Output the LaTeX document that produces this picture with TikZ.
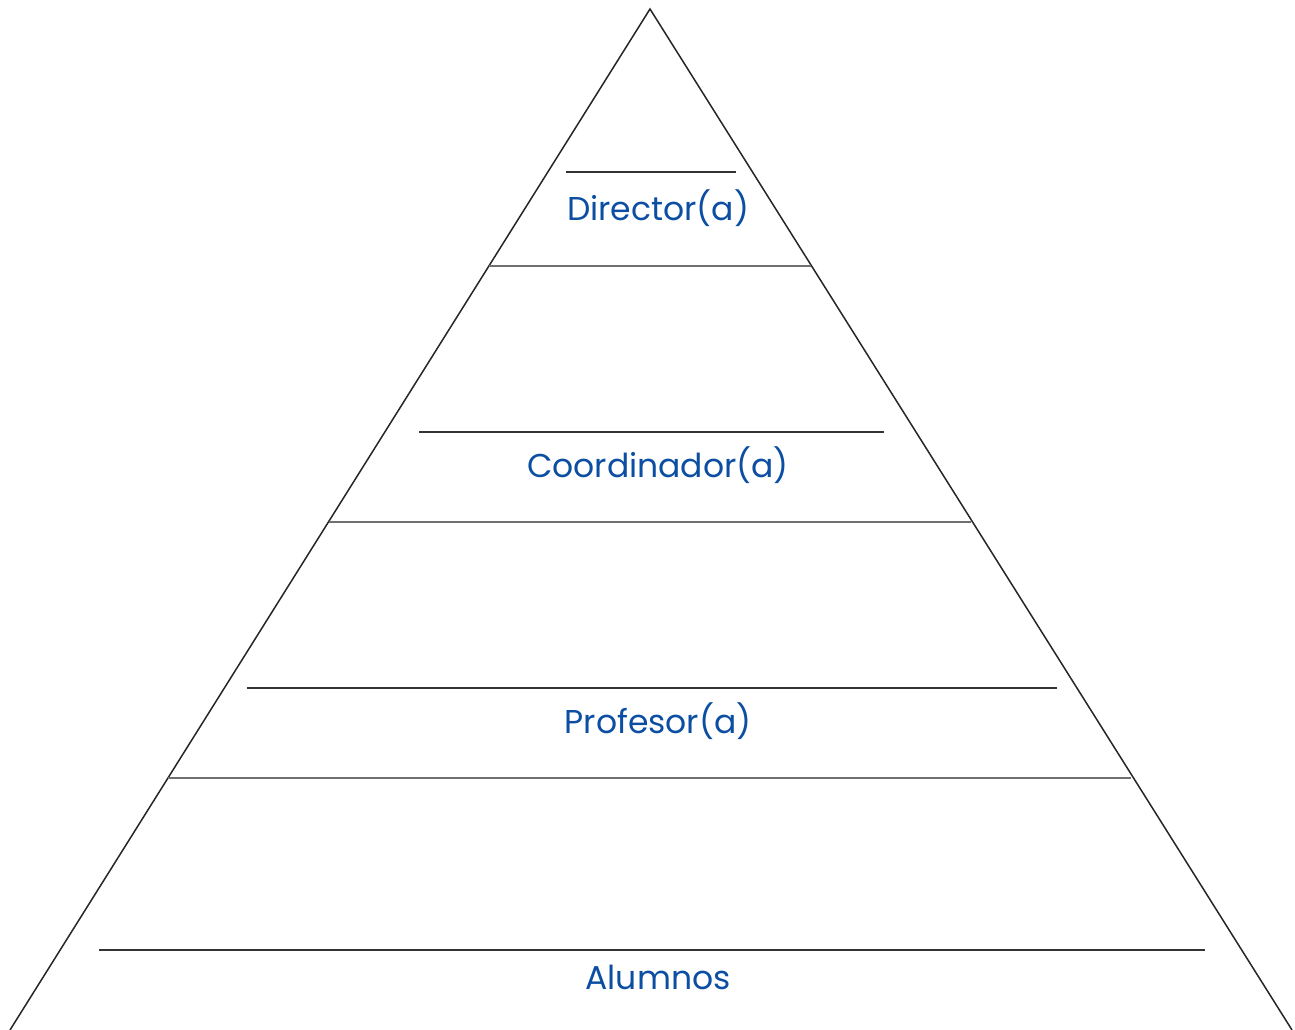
\documentclass[tikz,border=0pt]{standalone}
\usepackage{fontspec}
\setmainfont{Poppins}
\definecolor{lblue}{HTML}{0B4EA2}
\definecolor{lgray}{HTML}{707070}
\begin{document}
\begin{tikzpicture}[x=1pt,y=-1pt,
  side/.style={draw=black!85,line width=1.5pt},
  tier/.style={draw=lgray,line width=1.6pt},
  bar/.style={draw=black!80,line width=2pt},
  lbl/.style={text=lblue,font=\fontsize{33}{35}\selectfont,inner sep=0pt,anchor=center}]
\useasboundingbox (0,0) rectangle (1295,1030);
\coordinate (apex) at (650,9);
\coordinate (bl) at (10,1030);
\coordinate (br) at (1292,1030);
\draw[side] (bl) -- (apex) -- (br);
% tier lines
\coordinate (t1l) at (489,266); \coordinate (t1r) at (811,266);
\coordinate (t2l) at (329,522); \coordinate (t2r) at (971,522);
\coordinate (t3l) at (168,778); \coordinate (t3r) at (1131,778);
\draw[tier] (t1l) -- (t1r);
\draw[tier] (t2l) -- (t2r);
\draw[tier] (t3l) -- (t3r);
% bars
\coordinate (b1l) at (566,172); \coordinate (b1r) at (736,172);
\coordinate (b2l) at (419,432); \coordinate (b2r) at (884,432);
\coordinate (b3l) at (247,688); \coordinate (b3r) at (1057,688);
\coordinate (b4l) at (99,950); \coordinate (b4r) at (1205,950);
\draw[bar] (b1l) -- (b1r);
\draw[bar] (b2l) -- (b2r);
\draw[bar] (b3l) -- (b3r);
\draw[bar] (b4l) -- (b4r);
% labels
\node[lbl] (dir) at (658,208) {Director(a)};
\node[lbl] (coord) at (658,465) {Coordinador(a)};
\node[lbl] (prof) at (658,721) {Profesor(a)};
\node[lbl] (alum) at (658,977) {Alumnos};
\end{tikzpicture}
\end{document}
